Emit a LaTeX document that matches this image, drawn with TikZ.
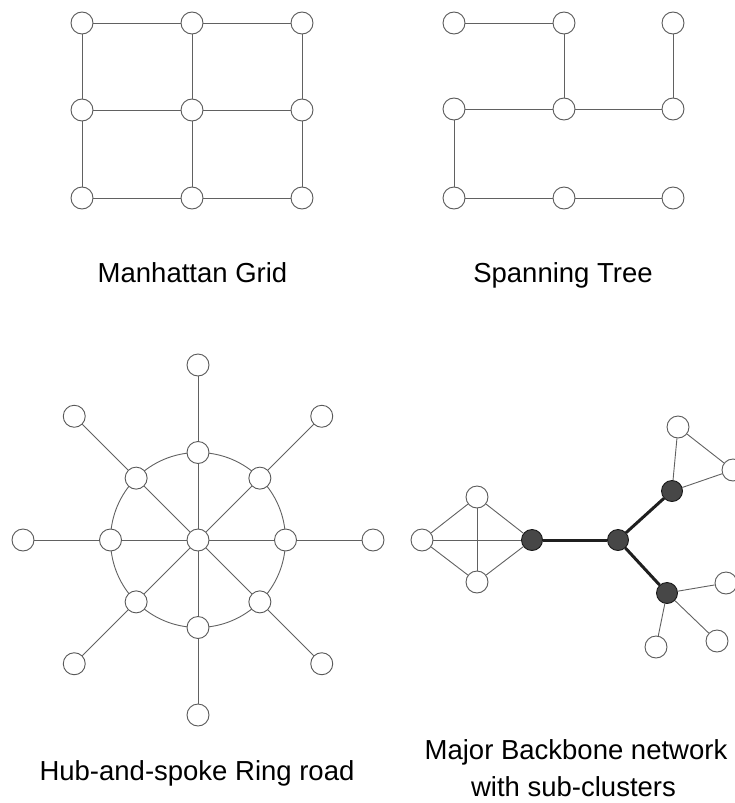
\documentclass[tikz,border=0pt]{standalone}
\usepackage{fontspec}
\setmainfont{Liberation Sans}
\begin{document}
\begin{tikzpicture}[x=1pt,y=-1pt,
  vtx/.style={circle,draw=black!65,fill=white,line width=0.9pt,minimum size=22pt,inner sep=0pt},
  core/.style={circle,draw=black!90,fill=black!72,line width=0.9pt,minimum size=21pt,inner sep=0pt},
  link/.style={draw=black!62,line width=0.9pt},
  trunk/.style={draw=black!88,line width=3pt},
  caption/.style={font=\fontsize{27.5}{37}\selectfont,text=black,anchor=base,inner sep=0pt}]
\useasboundingbox (0,0) rectangle (735,803);

% ---------- Manhattan grid ----------
\foreach \c/\x in {1/82,2/192,3/302}
  \foreach \r/\y in {1/23,2/110,3/198}
    \node[vtx] (g\r\c) at (\x,\y) {};
\foreach \r in {1,2,3}{
  \draw[link] (g\r1) -- (g\r2);
  \draw[link] (g\r2) -- (g\r3);
  \draw[link] (g1\r) -- (g2\r);
  \draw[link] (g2\r) -- (g3\r);
}
\node[caption] (capgrid) at (192.5,282) {Manhattan Grid};

% ---------- Spanning tree ----------
\foreach \c/\x in {1/454,2/564,3/673}
  \foreach \r/\y in {1/23,2/109,3/198}
    \node[vtx] (s\r\c) at (\x,\y) {};
\draw[link] (s11) -- (s12);
\draw[link] (s12) -- (s22);
\draw[link] (s13) -- (s23);
\draw[link] (s21) -- (s22);
\draw[link] (s22) -- (s23);
\draw[link] (s21) -- (s31);
\draw[link] (s31) -- (s32);
\draw[link] (s32) -- (s33);
\node[caption] (captree) at (563,282) {Spanning Tree};

% ---------- Hub-and-spoke with ring road ----------
\coordinate (hubc) at (198,540);
\draw[link] (hubc) circle (87.5);
\node[vtx] (hub) at (hubc) {};
\foreach \i in {0,...,7}{
  \node[vtx] (ring\i) at ([shift={(\i*45:87.5)}]hubc) {};
  \node[vtx] (out\i) at ([shift={(\i*45:175)}]hubc) {};
  \draw[link] (hub) -- (ring\i);
  \draw[link] (ring\i) -- (out\i);
}
\node[caption] (caphub) at (197,780) {Hub-and-spoke Ring road};

% ---------- Backbone with sub-clusters ----------
% left cluster
\node[vtx] (lw) at (422,540) {};
\node[vtx] (ln) at (477,497) {};
\node[vtx] (ls) at (477,582) {};
\node[core] (ca) at (532,540) {};
% backbone centre and branches
\node[core] (cb) at (618,540) {};
\node[core] (cc) at (672,491) {};
\node[core] (cd) at (667,593) {};
% upper cluster
\node[vtx] (un) at (678,427) {};
\node[vtx] (ue) at (733,470) {};
% lower cluster
\node[vtx] (de) at (726,583) {};
\node[vtx] (dsw) at (656,647) {};
\node[vtx] (dse) at (717,641) {};

\draw[link] (lw) -- (ln);
\draw[link] (lw) -- (ls);
\draw[link] (lw) -- (ca);
\draw[link] (ln) -- (ca);
\draw[link] (ls) -- (ca);
\draw[link] (ln) -- (ls);
\draw[trunk] (ca) -- (cb);
\draw[trunk] (cb) -- (cc);
\draw[trunk] (cb) -- (cd);
\draw[link] (cc) -- (un);
\draw[link] (cc) -- (ue);
\draw[link] (un) -- (ue);
\draw[link] (cd) -- (de);
\draw[link] (cd) -- (dsw);
\draw[link] (cd) -- (dse);
\node[caption] (capbb1) at (576,759) {Major Backbone network};
\node[caption] (capbb2) at (573.5,796) {with sub-clusters};
\end{tikzpicture}
\end{document}
